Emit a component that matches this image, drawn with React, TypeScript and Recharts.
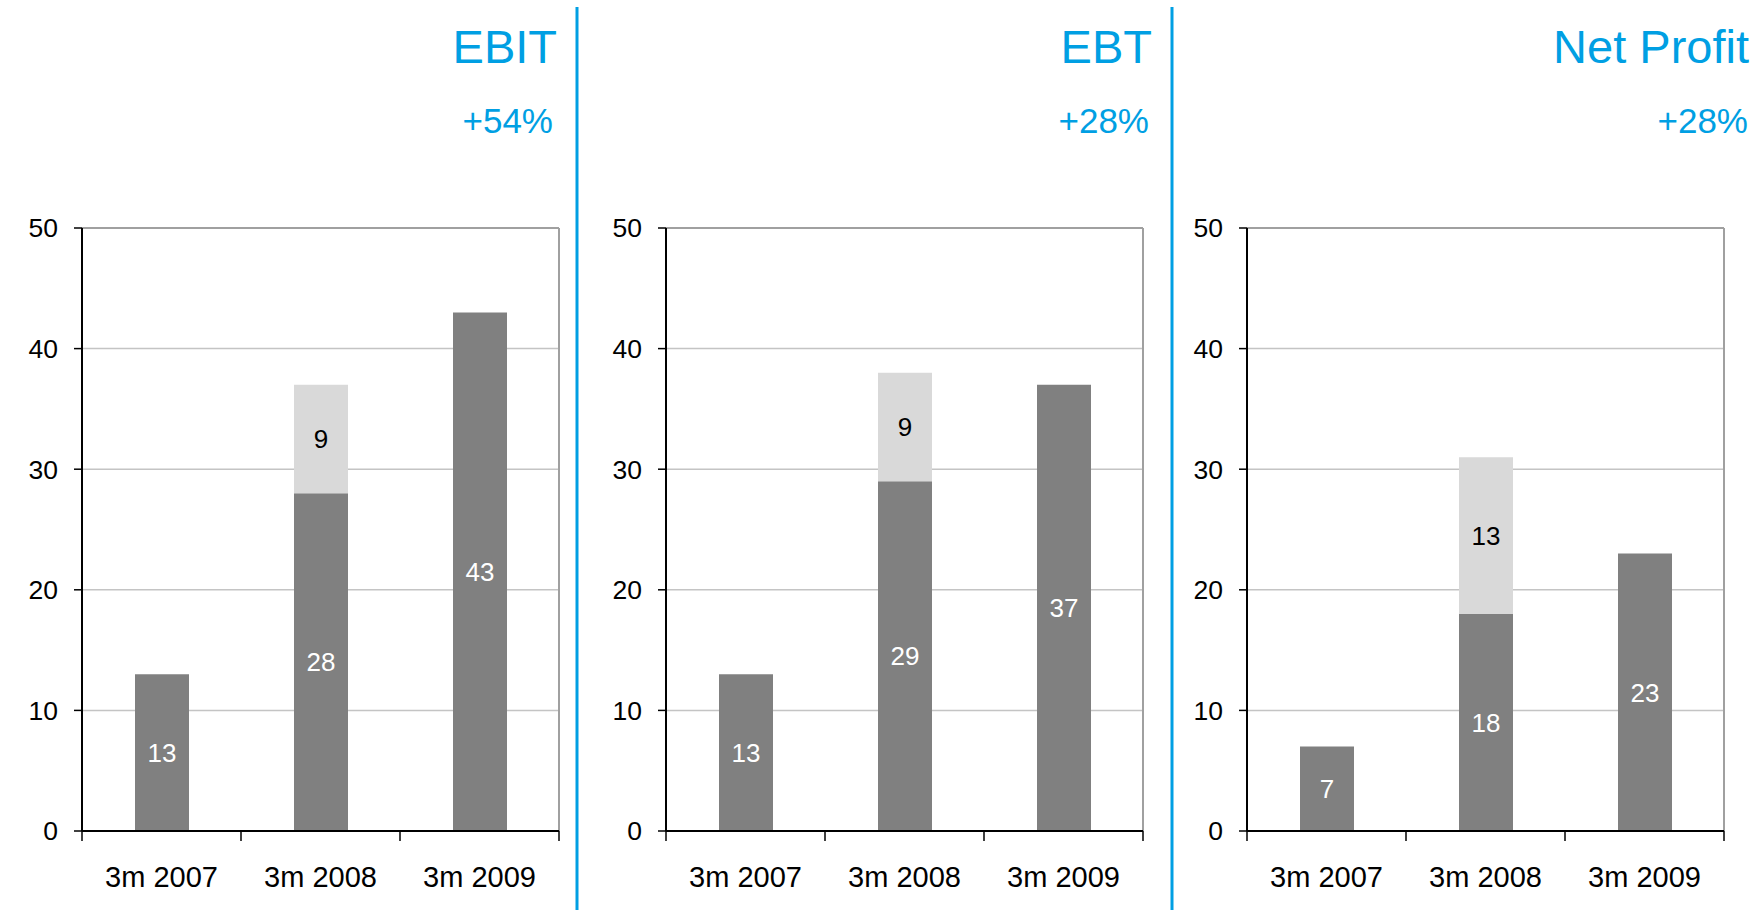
import React from 'react';
import {
  BarChart,
  Bar,
  XAxis,
  YAxis,
  CartesianGrid,
  ReferenceLine,
  LabelList,
} from 'recharts';

// Reporting periods shown on every panel
const periods = ['3m 2007', '3m 2008', '3m 2009'];
// Position of each period on the continuous edge axis (band centres)
const periodPos = [0.5, 1.5, 2.5];

// Y axis ticks shared by all panels
const yTicks = [0, 10, 20, 30, 40, 50];
// Category boundaries for the x-axis tick marks
const edgeTicks = [0, 1, 2, 3];

// EBIT
const ebitBase = [13, 28, 43];
const ebitExtra = [0, 9, 0];
// EBT
const ebtBase = [13, 29, 37];
const ebtExtra = [0, 9, 0];
// Net profit
const netBase = [7, 18, 23];
const netExtra = [0, 13, 0];

const titles = ['EBIT', 'EBT', 'Net Profit'];
const growth = ['+54%', '+28%', '+28%'];

const FONT = '"Liberation Sans", Arial, Helvetica, sans-serif';
const BLUE = '#009FE3';
const DARK = '#808080';
const LIGHT = '#D9D9D9';

type PanelProps = {
  left: number;
  base: number[];
  extra: number[];
};

const CHART_W = 563;
const CHART_H = 910;

function EdgeTick(props: any) {
  const bottom = Math.max(props.y1, props.y2);
  return (
    <line
      x1={props.x1}
      x2={props.x1}
      y1={bottom}
      y2={bottom + 10}
      stroke="#000"
      strokeWidth={1.5}
    />
  );
}

function Panel({ left, base, extra }: PanelProps) {
  const data = periods.map((period, i) => ({
    period,
    pos: periodPos[i],
    base: base[i],
    extra: extra[i],
  }));
  const hideZero = (v: any) => (v ? v : '');
  return (
    <div style={{ position: 'absolute', left, top: 0 }}>
      <BarChart
        width={CHART_W}
        height={CHART_H}
        data={data}
        margin={{ top: 228, right: 4, left: 0, bottom: 0 }}
        barSize={54}
      >
        <CartesianGrid vertical={false} stroke="#C4C4C4" strokeWidth={1.5} />
        <XAxis
          dataKey="period"
          height={79}
          tickLine={false}
          tickSize={0}
          tickMargin={35}
          axisLine={{ stroke: '#000', strokeWidth: 2 }}
          tick={{ fill: '#000', fontSize: 29, fontFamily: FONT }}
          interval={0}
        />
        <XAxis
          xAxisId="edge"
          dataKey="pos"
          type="number"
          domain={[0, 3]}
          allowDataOverflow
          ticks={edgeTicks}
          hide
        />
        <YAxis
          width={82}
          domain={[0, 50]}
          ticks={yTicks}
          interval={0}
          tickSize={8}
          tickMargin={16}
          axisLine={{ stroke: '#000', strokeWidth: 2 }}
          tickLine={{ stroke: '#000', strokeWidth: 1.5 }}
          tick={{ fill: '#000', fontSize: 26.5, fontFamily: FONT }}
        />
        <ReferenceLine y={50} stroke="#A0A0A0" strokeWidth={2} />
        <ReferenceLine
          xAxisId="edge"
          x={3}
          stroke="#A0A0A0"
          strokeWidth={2}
          ifOverflow="visible"
        />
        {edgeTicks.map((t) => (
          <ReferenceLine
            key={t}
            xAxisId="edge"
            x={t}
            ifOverflow="visible"
            shape={EdgeTick}
          />
        ))}
        <Bar dataKey="base" stackId="s" fill={DARK} isAnimationActive={false}>
          <LabelList
            dataKey="base"
            position="center"
            fill="#fff"
            fontSize={26}
            fontFamily={FONT}
            formatter={hideZero}
          />
        </Bar>
        <Bar dataKey="extra" stackId="s" fill={LIGHT} isAnimationActive={false}>
          <LabelList
            dataKey="extra"
            position="center"
            fill="#000"
            fontSize={26}
            fontFamily={FONT}
            formatter={hideZero}
          />
        </Bar>
      </BarChart>
    </div>
  );
}

const titleRight = [557, 1152, 1749];
const growthRight = [553, 1149, 1748];
const dividers = [577, 1172];

export default function App() {
  return (
    <div
      style={{
        position: 'absolute',
        left: 0,
        top: 0,
        width: 1762,
        height: 910,
        background: '#fff',
        overflow: 'hidden',
        fontFamily: FONT,
      }}
    >
      <Panel left={0} base={ebitBase} extra={ebitExtra} />
      <Panel left={584} base={ebtBase} extra={ebtExtra} />
      <Panel left={1165} base={netBase} extra={netExtra} />
      <svg
        width={1762}
        height={910}
        style={{ position: 'absolute', left: 0, top: 0, pointerEvents: 'none' }}
      >
        {dividers.map((x) => (
          <line key={x} x1={x} x2={x} y1={7} y2={910} stroke={BLUE} strokeWidth={3} />
        ))}
        {titles.map((t, i) => (
          <text
            key={t}
            x={titleRight[i]}
            y={63}
            textAnchor="end"
            fill={BLUE}
            fontSize={47}
            fontFamily={FONT}
          >
            {t}
          </text>
        ))}
        {growth.map((g, i) => (
          <text
            key={i}
            x={growthRight[i]}
            y={132.5}
            textAnchor="end"
            fill={BLUE}
            fontSize={35}
            fontFamily={FONT}
          >
            {g}
          </text>
        ))}
      </svg>
    </div>
  );
}
